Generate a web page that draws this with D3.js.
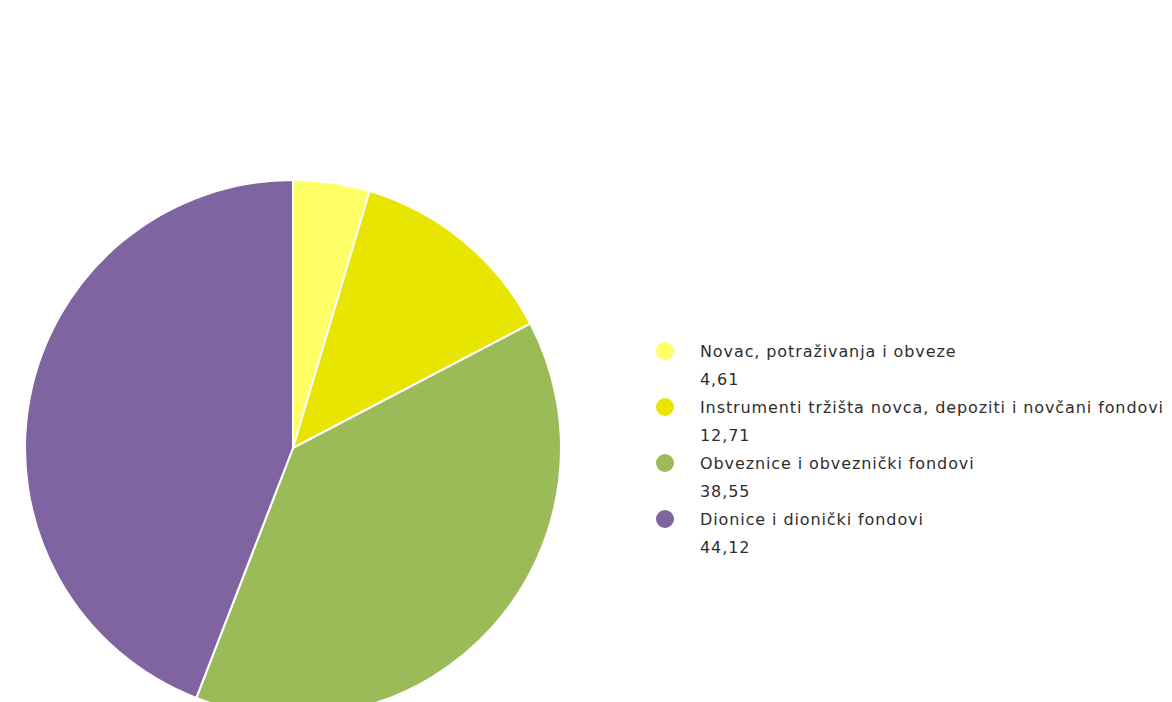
<!DOCTYPE html>
<html>
<head>
<meta charset="utf-8">
<script src="https://cdn.jsdelivr.net/npm/d3@7.9.0/dist/d3.min.js"></script>
<style>
  body { margin: 0; background: #fff; overflow: hidden; }
  svg { display: block; }
</style>
</head>
<body>
<div id="viz"></div>
<script>
const categories = [
  "Novac, potraživanja i obveze",
  "Instrumenti tržišta novca, depoziti i novčani fondovi",
  "Obveznice i obveznički fondovi",
  "Dionice i dionički fondovi"
];
const values = [4.61, 12.71, 38.55, 44.12];
const valueLabels = ["4,61", "12,71", "38,55", "44,12"];
const colors = ["#ffff66", "#e8e600", "#9bbb59", "#8064a2"];

const width = 1172;
const height = 702;

const svg = d3.select("#viz")
  .append("svg")
  .attr("width", width)
  .attr("height", height);

// pie, starts at 12 o'clock and goes clockwise
const cx = 293, cy = 448, radius = 268;

const pie = d3.pie().sort(null).value(d => d.value);
const arc = d3.arc().innerRadius(0).outerRadius(radius);

const data = categories.map((c, i) => ({ name: c, value: values[i], color: colors[i] }));

svg.append("g")
  .attr("transform", `translate(${cx},${cy})`)
  .selectAll("path")
  .data(pie(data))
  .join("path")
  .attr("d", arc)
  .attr("fill", d => d.data.color)
  .attr("stroke", "#fff")
  .attr("stroke-width", 2)
  .attr("stroke-linejoin", "round");

// legend
const legendY = d3.scalePoint()
  .domain(categories)
  .range([351, 519]);

const legend = svg.append("g")
  .selectAll("g")
  .data(data)
  .join("g")
  .attr("transform", d => `translate(665,${legendY(d.name)})`);

legend.append("circle")
  .attr("r", 9)
  .attr("fill", d => d.color);

legend.append("text")
  .attr("x", 35)
  .attr("y", 6)
  .attr("font-family", "DejaVu Sans, Verdana, sans-serif")
  .attr("font-size", "16px")
  .attr("letter-spacing", "0.9px")
  .attr("fill", "#2e2e2e")
  .text(d => d.name);

legend.append("text")
  .attr("x", 35)
  .attr("y", 34)
  .attr("font-family", "DejaVu Sans, Verdana, sans-serif")
  .attr("font-size", "16px")
  .attr("letter-spacing", "0.9px")
  .attr("fill", "#2e2e2e")
  .text((d, i) => valueLabels[i]);
</script>
</body>
</html>
